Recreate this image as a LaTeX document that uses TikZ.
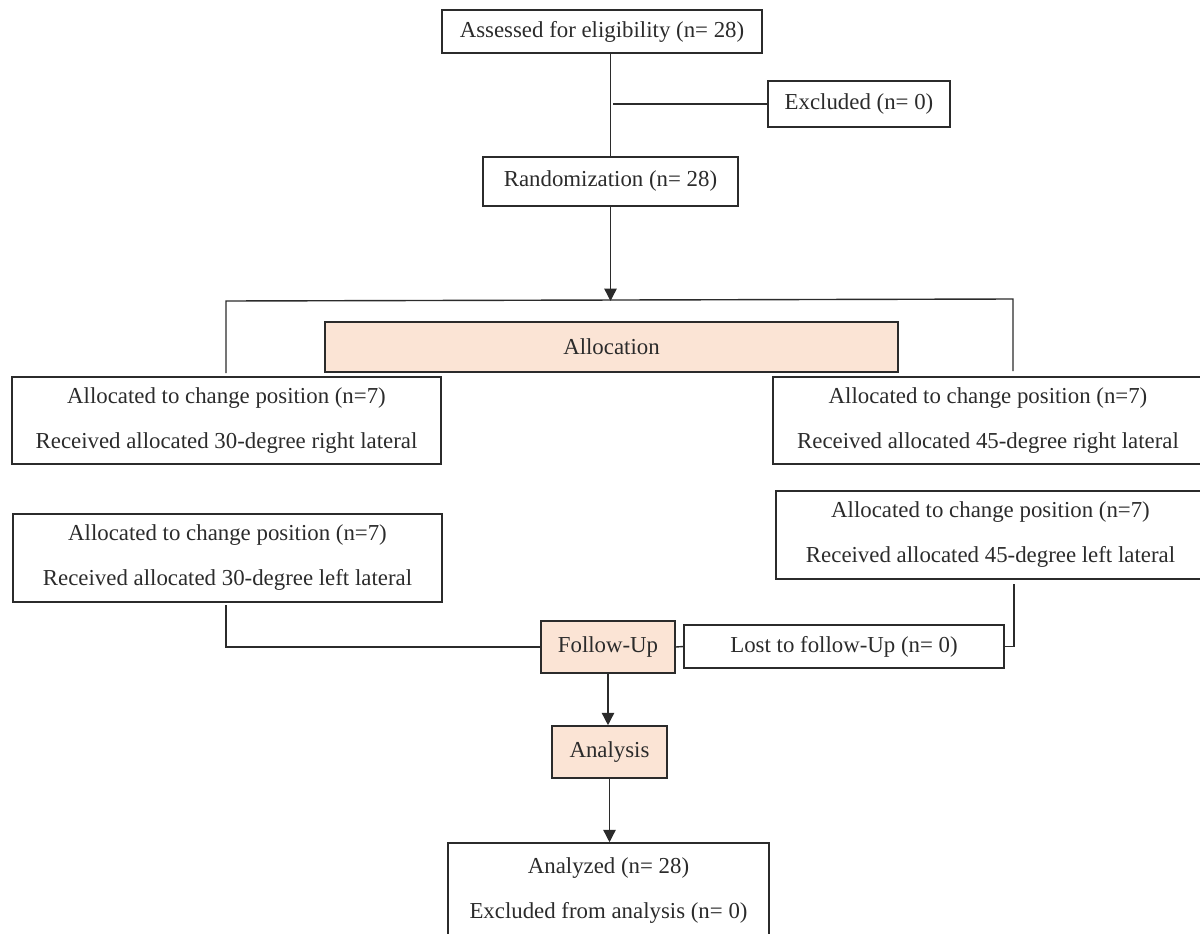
\documentclass[tikz,border=0pt]{standalone}
\usepackage{fontspec}
\setmainfont{Liberation Serif}
\usepackage{tikz}
\usepackage{xcolor}
\definecolor{stagecolor}{HTML}{FBE4D5}
\definecolor{inkcolor}{HTML}{2B2B2B}
\colorlet{linecolor}{inkcolor}
\usetikzlibrary{
  arrows.meta,
  shapes,
}

\begin{document}
\begin{tikzpicture}[x=0.02cm, y=-0.02cm]
	\tikzstyle{every node}=[font=\fontsize{13}{25.6}\selectfont, text=inkcolor]
	\tikzstyle{flowbox}=[draw=linecolor, line width=0.9pt, inner sep=0pt, align=center]
	\tikzstyle{stagebox}=[flowbox, fill=stagecolor]
	\tikzstyle{link}=[draw=linecolor, line width=0.8pt]
	\tikzstyle{arrowlink}=[link, -{Triangle[length=7pt, width=7pt]}]
	\useasboundingbox (0,0) rectangle (1200,933);
	% enrollment
	\node (assessed) [flowbox, minimum width=6.4cm, minimum height=0.86cm] at (602,31.5) {Assessed for eligibility (n= 28)};
	\node (excluded) [flowbox, minimum width=3.64cm, minimum height=0.92cm] at (859,104) {Excluded (n= 0)};
	\node (random) [flowbox, minimum width=5.1cm, minimum height=0.98cm] at (610.5,181.5) {Randomization (n= 28)};
	\coordinate (exjoin) at (613,104);
	\draw [link] (random.north) -- (random.north |- assessed.south);
	\draw [link] (excluded.west) -- (exjoin);
	% allocation
	\node (alloc) [stagebox, minimum width=11.46cm, minimum height=1cm] at (611.5,347) {Allocation};
	\coordinate (splitL) at (226,301);
	\coordinate (splitR) at (1013,299);
	\coordinate (legA) at (226,373);
	\coordinate (legB) at (1013,371);
	\draw [arrowlink] (random.south) -- (random.south |- splitL);
	\draw [link] (legA) -- (splitL) -- (splitR) -- (legB);
	% arms
	\node (armA) [flowbox, minimum width=8.58cm, minimum height=1.74cm] at (226.5,420.5) {Allocated to change position (n=7)\\Received allocated 30-degree right lateral};
	\node (armB) [flowbox, minimum width=8.6cm, minimum height=1.74cm] at (988,420.5) {Allocated to change position (n=7)\\Received allocated 45-degree right lateral};
	\node (armC) [flowbox, minimum width=8.58cm, minimum height=1.76cm] at (227.5,558) {Allocated to change position (n=7)\\Received allocated 30-degree left lateral};
	\node (armD) [flowbox, minimum width=8.58cm, minimum height=1.76cm] at (990.5,535) {Allocated to change position (n=7)\\Received allocated 45-degree left lateral};
	% follow-up
	\node (follow) [stagebox, minimum width=2.68cm, minimum height=1.04cm] at (608,647) {Follow-Up};
	\node (lost) [flowbox, minimum width=6.4cm, minimum height=0.86cm] at (844,646.5) {Lost to follow-Up (n= 0)};
	\coordinate (legC) at (226,605);
	\coordinate (legD) at (1014,584);
	\draw [link] (legC) -- (legC |- follow.west) -- (follow.west);
	\draw [link] (legD) -- (legD |- lost.east) -- (lost.east);
	\draw [link] (follow.east) -- (lost.west);
	% analysis
	\node (analysis) [stagebox, minimum width=2.3cm, minimum height=1.04cm] at (609.5,752) {Analysis};
	\node (analyzed) [flowbox, minimum width=6.42cm, minimum height=1.9cm] at (608.5,890.5) {Analyzed (n= 28)\\Excluded from analysis (n= 0)};
	\draw [arrowlink] (follow.south) -- (follow.south |- analysis.north);
	\draw [arrowlink] (analysis.south) -- (analysis.south |- analyzed.north);
\end{tikzpicture}
\end{document}
